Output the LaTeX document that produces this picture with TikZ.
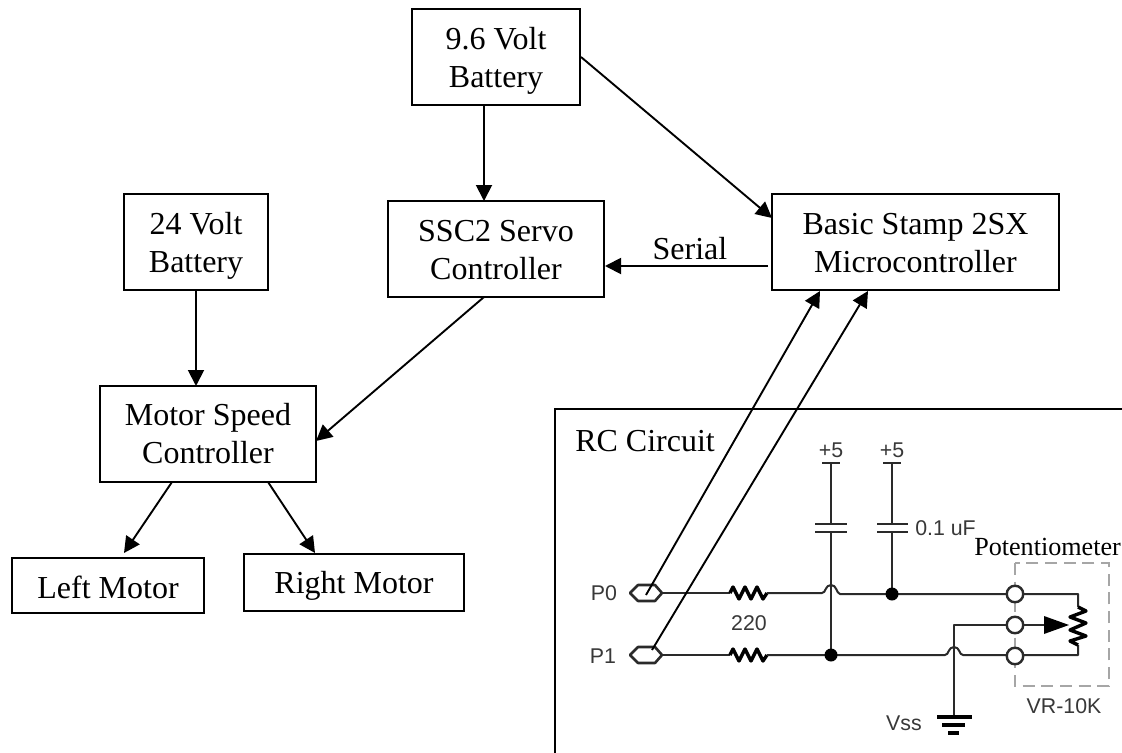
\documentclass[tikz,border=0pt]{standalone}
\usepackage{fontspec}
\setmainfont{Liberation Serif}
\newfontfamily\schemfont{Liberation Sans}
\usetikzlibrary{arrows.meta}
\definecolor{wirecol}{HTML}{2A2A2A}
\tikzset{
  x=0.75pt,y=-0.75pt,
  blockbox/.style={draw=black,line width=2.2pt*0.75,fill=white,align=center,inner sep=0pt,outer sep=0pt,
    text height=45pt,text depth=0pt,
    font=\fontsize{24}{28}\selectfont},
  flow/.style={draw=black,line width=1.9pt*0.75,-{Triangle[length=12pt,width=12pt]},shorten >=0pt},
  wire/.style={draw=wirecol,line width=2pt*0.75,line join=round},
  bold wire/.style={draw=black,line width=3.4pt*0.75,line join=round},
  dot/.style={fill=black,draw=none},
  term/.style={circle,draw=wirecol,fill=white,line width=2.4pt*0.75,minimum size=16.5pt*0.75,inner sep=0pt},
  schem/.style={font=\schemfont\fontsize{16}{18}\selectfont,text=black!78,inner sep=0pt},
  label/.style={font=\fontsize{24}{28}\selectfont,inner sep=0pt},
}
\begin{document}
\begin{tikzpicture}
\path[use as bounding box,fill=white] (0,0) rectangle (1122,753);
% blocks
\node[blockbox,minimum width=126pt,minimum height=72pt] (bat96) at (496,57) {9.6 Volt\\Battery};
\node[blockbox,minimum width=162pt,minimum height=72pt] (ssc) at (496,249) {SSC2 Servo\\Controller};
\node[blockbox,minimum width=215.25pt,minimum height=72pt] (stamp) at (915.5,242) {Basic Stamp 2SX\\Microcontroller};
\node[blockbox,minimum width=108pt,minimum height=72pt] (bat24) at (196,242) {24 Volt\\Battery};
\node[blockbox,minimum width=162pt,minimum height=72pt,text height=43.5pt] (msc) at (208,434) {Motor Speed\\Controller};
\node[blockbox,minimum width=144pt,minimum height=41.25pt,text height=18.8pt] (lm) at (108,585.5) {Left Motor};
\node[blockbox,minimum width=165pt,minimum height=42.75pt,text height=15.8pt] (rm) at (354,582.5) {Right Motor};
% RC frame
\coordinate (fbl) at (555,753);
\coordinate (ftl) at (555,409);
\coordinate (ftr) at (1122,409);
\draw[draw=black,line width=2.2pt*0.75] (fbl) -- (ftl) -- (ftr);
\node[label,anchor=base west] (rclabel) at (575,451) {RC Circuit};
% pot dashed box
\draw[draw=black!35,line width=2pt*0.75,dash pattern=on 9pt off 5pt] (1015,563) rectangle (1109,686);
% terminals and junctions
\coordinate (p0) at (662,593);
\coordinate (p1) at (662,655);
\coordinate (j1) at (831,655);
\coordinate (j2) at (892,594);
\coordinate (gnd) at (954,716);
% wires
\draw[wire] (p0) -- (730,593);
\draw[bold wire] (730,593) -- (733,587) -- (739,599) -- (745,587) -- (751,599) -- (757,587) -- (763,599) -- (767,593);
\draw[wire] (767,593) -- (822,593) .. controls (826,593) and (825,585) .. (831,585) .. controls (837,585) and (836,593) .. (840,594) -- (j2) -- (1078,594) -- (1078,607);
\draw[wire] (p1) -- (730,655);
\draw[bold wire] (730,655) -- (733,649) -- (739,661) -- (745,649) -- (751,661) -- (757,649) -- (763,661) -- (767,655);
\draw[wire] (767,655) -- (j1) -- (945,655) .. controls (949,655) and (948,647) .. (954,647) .. controls (960,647) and (959,655) .. (963,655) -- (1078,655) -- (1078,645);
\draw[bold wire] (1078,607) -- (1086,611) -- (1070,617) -- (1086,623) -- (1070,630) -- (1086,636) -- (1070,641) -- (1078,645);
% hexagon pins
\draw[wire,line width=2.6pt*0.75] (630,593) -- (638,585) -- (655,585) -- (662,593) -- (655,601) -- (638,601) -- cycle;
\draw[wire,line width=2.6pt*0.75] (630,655) -- (638,647) -- (655,647) -- (662,655) -- (655,663) -- (638,663) -- cycle;
% capacitors
\draw[wire] (822,463) -- (840,463);
\draw[wire] (831,463) -- (831,524);
\draw[wire] (815,524) -- (847,524);
\draw[wire] (815,532) -- (847,532);
\draw[wire] (831,532) -- (j1);
\draw[wire] (883,463) -- (901,463);
\draw[wire] (892,463) -- (892,524);
\draw[wire] (877,524) -- (908,524);
\draw[wire] (877,532) -- (908,532);
\draw[wire] (892,532) -- (j2);
\fill[dot] (j1) circle (6.5);
\fill[dot] (j2) circle (6.5);
% wiper and ground
\draw[wire] (1015,625) -- (954,625) -- (gnd);
\draw[wire] (1015,625) -- (1046,625);
\fill[black] (1044,616) -- (1069,625) -- (1044,634) -- cycle;
\draw[bold wire] (937,717) -- (972,717);
\draw[bold wire] (942,725) -- (965,725);
\draw[bold wire] (948,733) -- (959,733);
\node[term] (t1) at (1015,594) {};
\node[term] (t2) at (1015,625) {};
\node[term] (t3) at (1015,656) {};
% schematic labels
\node[schem] (lp0) at (604,593) {P0};
\node[schem] (lp1) at (603,656) {P1};
\node[schem] (l220) at (749,623) {220};
\node[schem] (lv1) at (831,450) {+5};
\node[schem] (lv2) at (892,450) {+5};
\node[schem,anchor=west] (lcap) at (915,528) {0.1 uF};
\node[schem] (lvr) at (1064,706) {VR-10K};
\node[schem] (lvss) at (904,723) {Vss};
\node[font=\fontsize{19.6}{24}\selectfont,anchor=base west,inner sep=0pt] (lpot) at (974,555) {Potentiometer};
% free ends of connectors
\coordinate (a1) at (581,57);
\coordinate (a2) at (772,218);
\coordinate (a3) at (484,297);
\coordinate (a4) at (316,441);
\coordinate (a5) at (768,266);
\coordinate (a6) at (605,266);
\coordinate (a7) at (172,482);
\coordinate (a8) at (124,553);
\coordinate (a9) at (268,482);
\coordinate (a10) at (315,553);
\coordinate (a11) at (646,595);
\coordinate (a12) at (820,291);
\coordinate (a13) at (652,650);
\coordinate (a14) at (868,291);
% connectors
\draw[flow] (bat96.south -| 484,0) -- (ssc.north -| 484,0);
\draw[flow] (a1) -- (a2);
\draw[flow] (a5) -- (a6);
\draw[flow] (a3) -- (a4);
\draw[flow] (bat24.south) -- (bat24.south |- msc.north);
\draw[flow] (a7) -- (a8);
\draw[flow] (a9) -- (a10);
\draw[flow] (a11) -- (a12);
\draw[flow] (a13) -- (a14);
\node[label,anchor=base] (lserial) at (690,259) {Serial};
\end{tikzpicture}
\end{document}
